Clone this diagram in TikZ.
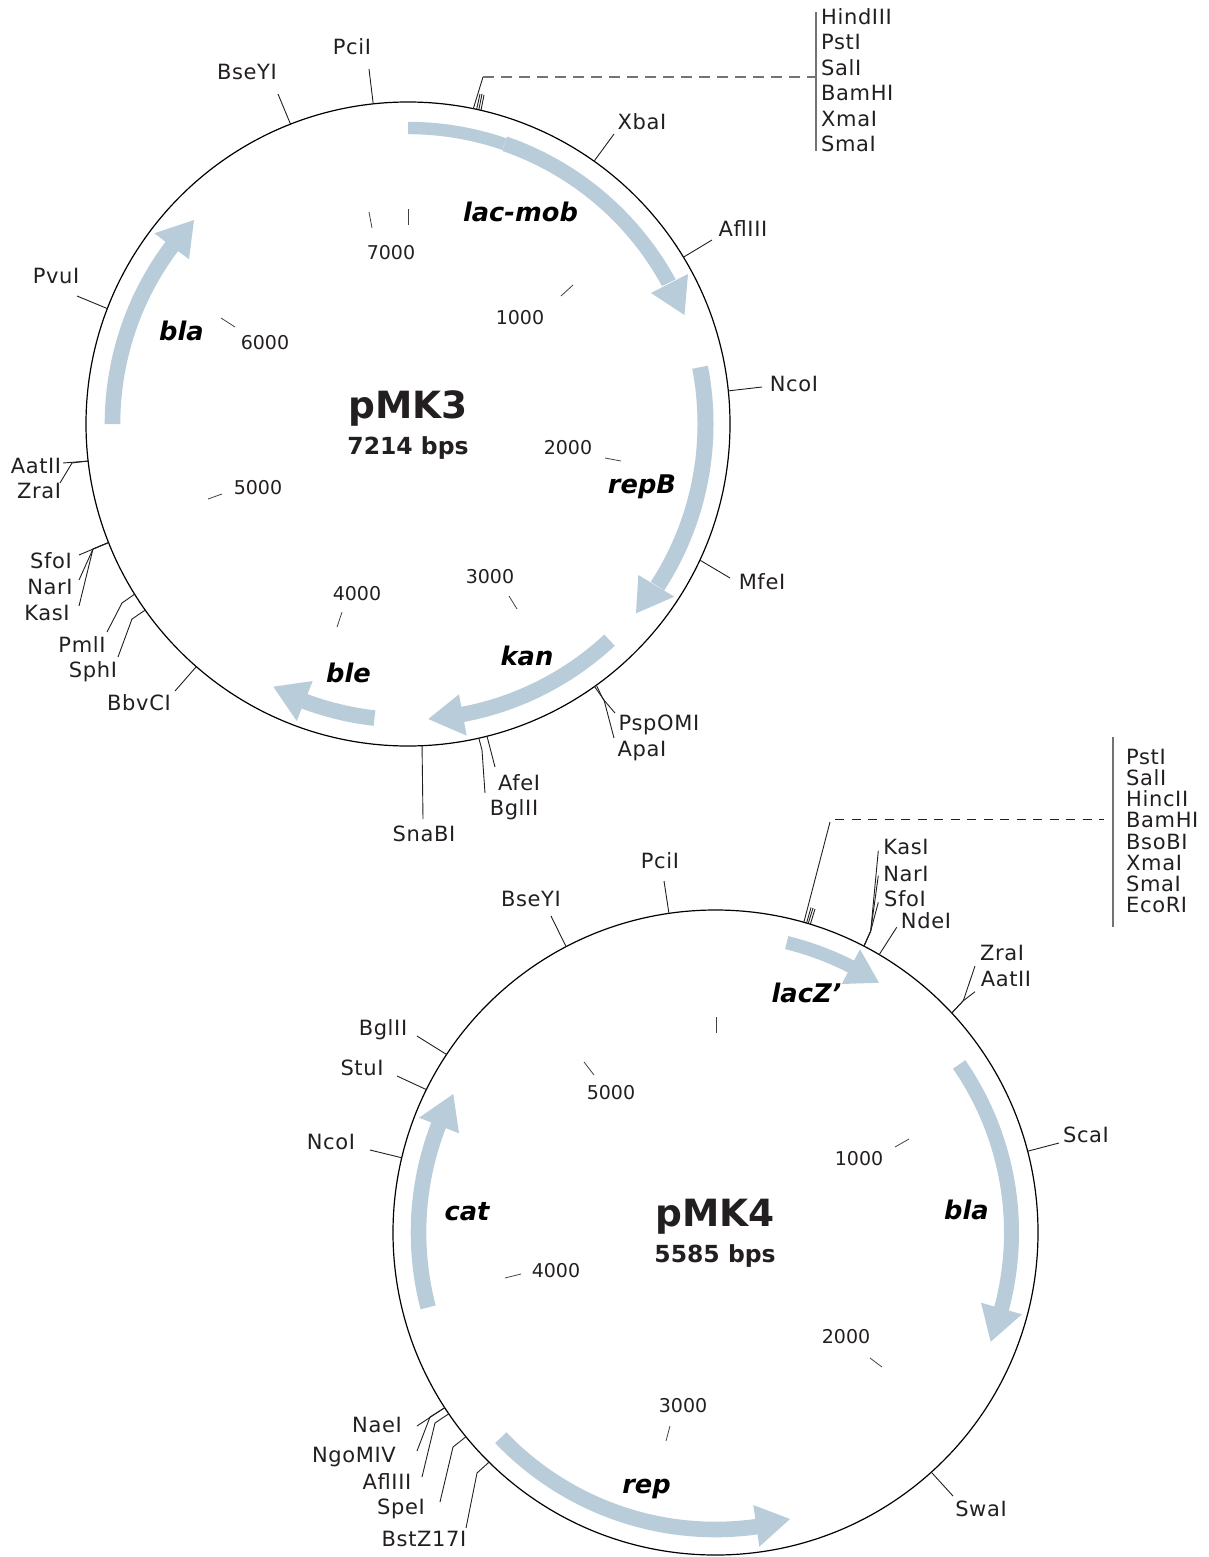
\documentclass[tikz,border=0pt]{standalone}
\usepackage{fontspec}
\setmainfont{DejaVu Sans}
\newfontfamily\sitefont[LetterSpace=3]{DejaVu Sans}
\usepackage{xcolor}
\definecolor{genefill}{HTML}{B8CDD9}
\definecolor{inktext}{HTML}{231F20}

\begin{document}
\begin{tikzpicture}[
      x=1pt, y=-1pt,
      site_label/.style={inner sep=0pt, text height=15pt, text depth=0pt, text=inktext, font=\sitefont\fontsize{21}{25}\selectfont},
      scale_label/.style={inner sep=0pt, text height=14pt, text depth=0pt, text=inktext, font=\fontsize{19}{23}\selectfont},
      gene_label/.style={inner sep=0pt, text height=19pt, text depth=0pt, font=\fontsize{25.7}{30}\selectfont\bfseries\itshape},
      title_label/.style={inner sep=0pt, text=inktext, font=\fontsize{37.5}{44}\selectfont\bfseries},
      size_label/.style={inner sep=0pt, text=inktext, font=\fontsize{23.5}{28}\selectfont\bfseries},
      list_label/.style={inner sep=0pt, anchor=west, align=left, text=inktext},
      plasmid/.style={circle, draw=black, line width=1.2pt, inner sep=0pt, outer sep=0pt, minimum size=#1},
      site_line/.style={draw=inktext, line width=0.9pt},
      scale_line/.style={draw=inktext!85, line width=0.8pt},
      bar_line/.style={draw=black!55, line width=1.3pt},
      gene_shape/.style={fill=genefill, draw=none}
  ]
  \useasboundingbox (0,0) rectangle (1209,1557);

  % upper plasmid
  \node[plasmid=644pt] (pmkA) at (408,424) {};
  \node[title_label] (nameA) at (408,408) {pMK3};
  \node[size_label] (sizeA) at (408,448) {7214 bps};

  \fill[gene_shape] ([shift={(-90:302.2)}]pmkA.center) arc[start angle=-90, end angle=-71, radius=302.2] -- ([shift={(-71:289.8)}]pmkA.center) arc[start angle=-71, end angle=-90, radius=289.8] -- cycle;
  \fill[gene_shape] ([shift={(-71:304)}]pmkA.center) arc[start angle=-71, end angle=-28.5, radius=305] -- ([shift={(-28.5:289)}]pmkA.center) arc[start angle=-28.5, end angle=-71, radius=288.5] -- cycle;
  \fill[gene_shape] (651,293) -- (684.5,315) -- (688,274) -- cycle;
  \fill[gene_shape] ([shift={(-11:305.5)}]pmkA.center) arc[start angle=-11, end angle=33, radius=305.5] -- ([shift={(33:289.5)}]pmkA.center) arc[start angle=33, end angle=-11, radius=289.5] -- cycle;
  \fill[gene_shape] (638.3,575) -- (636,613.3) -- (674.3,596.7) -- cycle;
  \fill[gene_shape] ([shift={(47:303.2)}]pmkA.center) arc[start angle=47, end angle=79.5, radius=303.2] -- ([shift={(79.5:287.8)}]pmkA.center) arc[start angle=79.5, end angle=47, radius=287.8] -- cycle;
  \fill[gene_shape] (459,694.3) -- (428.3,719) -- (466.7,735.7) -- cycle;
  \fill[gene_shape] ([shift={(96.5:303.8)}]pmkA.center) arc[start angle=96.5, end angle=110.5, radius=303.8] -- ([shift={(110.5:288.2)}]pmkA.center) arc[start angle=110.5, end angle=96.5, radius=288.2] -- cycle;
  \fill[gene_shape] (312.7,681) -- (273.3,686.7) -- (296.7,721) -- cycle;
  \fill[gene_shape] ([shift={(-180:303.3)}]pmkA.center) arc[start angle=-180, end angle=-143, radius=303.3] -- ([shift={(-143:287.7)}]pmkA.center) arc[start angle=-143, end angle=-180, radius=287.7] -- cycle;
  \fill[gene_shape] (154.3,233.3) -- (194,220) -- (189,259.3) -- cycle;

  \node[gene_label] (lacmobA) at (520.5,212) {lac-mob};
  \node[gene_label] (repbA) at (642,484) {repB};
  \node[gene_label] (kanA) at (527,656) {kan};
  \node[gene_label] (bleA) at (348.5,673) {ble};
  \node[gene_label] (blaA) at (181.5,331) {bla};

  \node[scale_label] (k1A) at (520,317) {1000};
  \node[scale_label] (k2A) at (568,447) {2000};
  \node[scale_label] (k3A) at (490,576) {3000};
  \node[scale_label] (k4A) at (357,593) {4000};
  \node[scale_label] (k5A) at (258,487) {5000};
  \node[scale_label] (k6A) at (265,342) {6000};
  \node[scale_label] (k7A) at (391,252) {7000};
  \draw[scale_line] (573,285) -- (561,296);
  \draw[scale_line] (621,461) -- (605,458);
  \draw[scale_line] (517,609) -- (509,596);
  \draw[scale_line] (337,627) -- (342,612);
  \draw[scale_line] (208,499) -- (222,494);
  \draw[scale_line] (235,327) -- (221,318);
  \draw[scale_line] (369,212) -- (372,228);
  \draw[scale_line] (408.5,209) -- (408.5,225);

  \node[site_label] (pciA) at (352,47) {PciI};
  \node[site_label] (bseA) at (247,72) {BseYI};
  \node[site_label] (xbaA) at (642,122) {XbaI};
  \node[site_label] (aflA) at (743,229) {AflIII};
  \node[site_label] (ncoA) at (794,384) {NcoI};
  \node[site_label] (mfeA) at (762,582) {MfeI};
  \node[site_label] (pspA) at (659,723) {PspOMI};
  \node[site_label] (apaA) at (642,749) {ApaI};
  \node[site_label] (afeA) at (519,783) {AfeI};
  \node[site_label] (bglA) at (514,808) {BglII};
  \node[site_label] (snaA) at (424,834) {SnaBI};
  \node[site_label] (bbvA) at (139,703) {BbvCI};
  \node[site_label] (sphA) at (93,670) {SphI};
  \node[site_label] (pmlA) at (82,645) {PmlI};
  \node[site_label] (kasA) at (47,613) {KasI};
  \node[site_label] (narA) at (50,587) {NarI};
  \node[site_label] (sfoA) at (51,561) {SfoI};
  \node[site_label] (zraA) at (39,491) {ZraI};
  \node[site_label] (aatA) at (36,466) {AatII};
  \node[site_label] (pvuA) at (56,276) {PvuI};
  \node[list_label, font=\sitefont\fontsize{21}{25.5}\selectfont] (listA) at (821,80) {HindIII\\PstI\\SalI\\BamHI\\XmaI\\SmaI};

  \coordinate (pciA_end) at (369,69);
  \coordinate (bseA_end) at (278,94);
  \coordinate (xbaA_end) at (614,134);
  \coordinate (aflA_end) at (712,240);
  \coordinate (ncoA_end) at (762,387);
  \coordinate (mfeA_end) at (730,578);
  \coordinate (pspA_end) at (615,713);
  \coordinate (apaA_end) at (614,738);
  \coordinate (afeA_end) at (495,767);
  \coordinate (bglA_end) at (485,793);
  \coordinate (snaA_end) at (423,819);
  \coordinate (bbvA_end) at (175,691);
  \coordinate (sphA_end) at (118,657);
  \coordinate (pmlA_end) at (107,632);
  \coordinate (kasA_end) at (79,606);
  \coordinate (narA_end) at (79,580);
  \coordinate (sfoA_end) at (79,555);
  \coordinate (zraA_end) at (60,483);
  \coordinate (aatA_end) at (63,463);
  \coordinate (pvuA_end) at (77,296);
  \coordinate (listA_end) at (483,77);
  \coordinate (listA_top) at (816,12);
  \coordinate (listA_bot) at (816,151);

  \draw[site_line] ([shift={(-96.2:322)}]pmkA.center) -- (pciA_end);
  \draw[site_line] ([shift={(-111.4:322)}]pmkA.center) -- (bseA_end);
  \draw[site_line] ([shift={(-54.7:322)}]pmkA.center) -- (xbaA_end);
  \draw[site_line] ([shift={(-31.2:322)}]pmkA.center) -- (aflA_end);
  \draw[site_line] ([shift={(-5.9:322)}]pmkA.center) -- (ncoA_end);
  \draw[site_line] ([shift={(25:322)}]pmkA.center) -- (mfeA_end);
  \draw[site_line] ([shift={(54.2:322)}]pmkA.center) -- (603,699) -- (pspA_end);
  \draw[site_line] ([shift={(54.6:322)}]pmkA.center) -- (604,700) -- (apaA_end);
  \draw[site_line] ([shift={(75.8:322)}]pmkA.center) -- (afeA_end);
  \draw[site_line] ([shift={(77.3:322)}]pmkA.center) -- (482,750) -- (bglA_end);
  \draw[site_line] ([shift={(87.5:322)}]pmkA.center) -- (snaA_end);
  \draw[site_line] ([shift={(131.1:322)}]pmkA.center) -- (bbvA_end);
  \draw[site_line] ([shift={(144.7:322)}]pmkA.center) -- (132,619) -- (sphA_end);
  \draw[site_line] ([shift={(148.1:322)}]pmkA.center) -- (122,603) -- (pmlA_end);
  \draw[site_line] ([shift={(158.4:322)}]pmkA.center) -- (93,549) -- (kasA_end);
  \draw[site_line] ([shift={(158.4:322)}]pmkA.center) -- (93,549) -- (narA_end);
  \draw[site_line] ([shift={(158.4:322)}]pmkA.center) -- (sfoA_end);
  \draw[site_line] ([shift={(173.4:322)}]pmkA.center) -- (72,463) -- (zraA_end);
  \draw[site_line] ([shift={(173.4:322)}]pmkA.center) -- (aatA_end);
  \draw[site_line] ([shift={(-159:322)}]pmkA.center) -- (pvuA_end);

  \draw[site_line] ([shift={(-78.3:322)}]pmkA.center) -- (listA_end);
  \draw[site_line] ([shift={(-77.7:322)}]pmkA.center) -- (480,94);
  \draw[site_line] ([shift={(-77.3:322)}]pmkA.center) -- (482,94);
  \draw[site_line] ([shift={(-76.9:322)}]pmkA.center) -- (484,95);
  \draw[bar_line, dash pattern=on 11pt off 7pt] (listA_end) -- (listA_top |- listA_end);
  \draw[bar_line] (listA_top) -- (listA_bot);

  % lower plasmid
  \node[plasmid=645pt] (pmkB) at (715.5,1232.5) {};
  \node[title_label] (nameB) at (715,1217) {pMK4};
  \node[size_label] (sizeB) at (715,1256) {5585 bps};

  \fill[gene_shape] ([shift={(-76.2:305.2)}]pmkB.center) arc[start angle=-76.2, end angle=-62.5, radius=305.2] -- ([shift={(-62.5:291.8)}]pmkB.center) arc[start angle=-62.5, end angle=-76.2, radius=291.8] -- cycle;
  \fill[gene_shape] (860,949.3) -- (879,982.7) -- (841.7,984) -- cycle;
  \fill[gene_shape] ([shift={(-34.6:303.5)}]pmkB.center) arc[start angle=-34.6, end angle=15, radius=303.5] -- ([shift={(15:288.5)}]pmkB.center) arc[start angle=15, end angle=-34.6, radius=288.5] -- cycle;
  \fill[gene_shape] (981,1302.7) -- (990.7,1341.7) -- (1022,1314.3) -- cycle;
  \fill[gene_shape] ([shift={(136.3:304.8)}]pmkB.center) arc[start angle=136.3, end angle=82, radius=304.8] -- ([shift={(82:289.2)}]pmkB.center) arc[start angle=82, end angle=136.3, radius=289.2] -- cycle;
  \fill[gene_shape] (753.3,1505) -- (790,1519) -- (759.3,1546.7) -- cycle;
  \fill[gene_shape] ([shift={(-194.6:304.8)}]pmkB.center) arc[start angle=-194.6, end angle=-158.5, radius=304.8] -- ([shift={(-158.5:289.2)}]pmkB.center) arc[start angle=-158.5, end angle=-194.6, radius=289.2] -- cycle;
  \fill[gene_shape] (419,1117.7) -- (453.3,1094) -- (459,1133.3) -- cycle;

  \node[gene_label] (laczB) at (806.5,993) {lacZ'};
  \node[gene_label] (blaB) at (966.5,1210) {bla};
  \node[gene_label] (repB) at (646.5,1484) {rep};
  \node[gene_label] (catB) at (467,1211) {cat};

  \node[scale_label] (k1B) at (859,1158) {1000};
  \node[scale_label] (k2B) at (846,1336) {2000};
  \node[scale_label] (k3B) at (683,1405) {3000};
  \node[scale_label] (k4B) at (556,1270) {4000};
  \node[scale_label] (k5B) at (611,1092) {5000};
  \draw[scale_line] (909,1139) -- (895,1147);
  \draw[scale_line] (882,1367) -- (870,1358);
  \draw[scale_line] (666,1441) -- (670,1426);
  \draw[scale_line] (505,1278) -- (521,1274);
  \draw[scale_line] (594,1075) -- (584,1062);
  \draw[scale_line] (716,1017) -- (716,1033);

  \node[site_label] (pciB) at (660,861) {PciI};
  \node[site_label] (bseB) at (531,899) {BseYI};
  \node[site_label] (bglB) at (383,1028) {BglII};
  \node[site_label] (stuB) at (362,1068) {StuI};
  \node[site_label] (ncoB) at (331,1142) {NcoI};
  \node[site_label] (naeB) at (377,1425) {NaeI};
  \node[site_label] (ngoB) at (354,1455) {NgoMIV};
  \node[site_label] (aflB) at (387,1482) {AflIII};
  \node[site_label] (speB) at (401,1507) {SpeI};
  \node[site_label] (bstB) at (424,1539) {BstZ17I};
  \node[site_label] (swaB) at (981,1509) {SwaI};
  \node[site_label] (scaB) at (1086,1135) {ScaI};
  \node[site_label] (zraB) at (1002,953) {ZraI};
  \node[site_label] (aatB) at (1006,979) {AatII};
  \node[site_label] (ndeB) at (926,921) {NdeI};
  \node[site_label] (sfoB) at (905,899) {SfoI};
  \node[site_label] (narB) at (906,874) {NarI};
  \node[site_label] (kasB) at (906,847) {KasI};
  \node[list_label, font=\sitefont\fontsize{21}{21.1}\selectfont] (listB) at (1126,831) {PstI\\SalI\\HincII\\BamHI\\BsoBI\\XmaI\\SmaI\\EcoRI};

  \coordinate (pciB_end) at (664,881);
  \coordinate (bseB_end) at (551,916);
  \coordinate (bglB_end) at (417,1036);
  \coordinate (stuB_end) at (397,1076);
  \coordinate (ncoB_end) at (370,1150);
  \coordinate (naeB_end) at (417,1426);
  \coordinate (ngoB_end) at (417,1451);
  \coordinate (aflB_end) at (422,1477);
  \coordinate (speB_end) at (440,1502);
  \coordinate (bstB_end) at (466,1528);
  \coordinate (swaB_end) at (953,1496);
  \coordinate (scaB_end) at (1059,1143);
  \coordinate (zraB_end) at (975,966);
  \coordinate (aatB_end) at (975,991.7);
  \coordinate (ndeB_end) at (896.7,927.3);
  \coordinate (sfoB_end) at (878.3,902.3);
  \coordinate (narB_end) at (878.3,875.7);
  \coordinate (kasB_end) at (878.3,850.7);
  \coordinate (listB_end) at (830,822);
  \coordinate (listB_dash) at (835,819.5);
  \coordinate (listB_stop) at (1104,819.5);
  \coordinate (listB_top) at (1113,737);
  \coordinate (listB_bot) at (1113,927);

  \draw[site_line] ([shift={(-98.3:322.5)}]pmkB.center) -- (pciB_end);
  \draw[site_line] ([shift={(-117.6:322.5)}]pmkB.center) -- (bseB_end);
  \draw[site_line] ([shift={(-146.5:322.5)}]pmkB.center) -- (bglB_end);
  \draw[site_line] ([shift={(-153.7:322.5)}]pmkB.center) -- (stuB_end);
  \draw[site_line] ([shift={(-166.6:322.5)}]pmkB.center) -- (ncoB_end);
  \draw[site_line] ([shift={(147.1:322.5)}]pmkB.center) -- (naeB_end);
  \draw[site_line] ([shift={(147.1:322.5)}]pmkB.center) -- (430,1417) -- (ngoB_end);
  \draw[site_line] ([shift={(145.8:322.5)}]pmkB.center) -- (435,1423) -- (aflB_end);
  \draw[site_line] ([shift={(140.7:322.5)}]pmkB.center) -- (453,1447) -- (speB_end);
  \draw[site_line] ([shift={(134.6:322.5)}]pmkB.center) -- (477,1473) -- (bstB_end);
  \draw[site_line] ([shift={(48:322.5)}]pmkB.center) -- (swaB_end);
  \draw[site_line] ([shift={(-14.6:322.5)}]pmkB.center) -- (scaB_end);
  \draw[site_line] ([shift={(-42.9:322.5)}]pmkB.center) -- (963.3,1000.7) -- (zraB_end);
  \draw[site_line] ([shift={(-42.9:322.5)}]pmkB.center) -- (963.3,1000.7) -- (aatB_end);
  \draw[site_line] ([shift={(-59.5:322.5)}]pmkB.center) -- (ndeB_end);
  \draw[site_line] ([shift={(-62.6:322.5)}]pmkB.center) -- (870.7,931) -- (sfoB_end);
  \draw[site_line] ([shift={(-62.6:322.5)}]pmkB.center) -- (870.7,931) -- (narB_end);
  \draw[site_line] ([shift={(-62.6:322.5)}]pmkB.center) -- (870.7,931) -- (kasB_end);

  \draw[site_line] ([shift={(-74.1:322.5)}]pmkB.center) -- (listB_end);
  \draw[site_line] ([shift={(-73.6:322.5)}]pmkB.center) -- (811,907.5);
  \draw[site_line] ([shift={(-73.3:322.5)}]pmkB.center) -- (813,908);
  \draw[site_line] ([shift={(-72.9:322.5)}]pmkB.center) -- (815,909);
  \draw[site_line, dash pattern=on 9pt off 7.5pt] (listB_dash) -- (listB_stop);
  \draw[bar_line] (listB_top) -- (listB_bot);

\end{tikzpicture}
\end{document}
